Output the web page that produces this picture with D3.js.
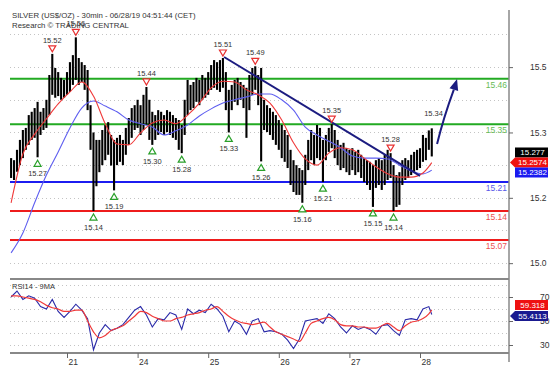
<!DOCTYPE html>
<html><head><meta charset="utf-8">
<script src="https://cdn.jsdelivr.net/npm/d3@7"></script>
<style>
html,body{margin:0;padding:0;background:#fff;}
svg{display:block;font-family:"Liberation Sans",Arial,sans-serif;}
</style></head><body>
<svg id="c" width="554" height="369"></svg>
<script>
const title = "SILVER (US$/OZ) - 30min - 06/28/19 04:51:44 (CET)";
const subtitle = "Research \u00A9 TRADING CENTRAL";
const rsiTitle = "RSI14 - 9MA";
const dayTickHours = [24, 48, 72, 96, 120, 144];
const dayTickLabels = ["21", "24", "25", "26", "27", "28"];
const priceTicks = [15.488, 15.33, 15.172, 15.014];
const priceGrid = [15.567, 15.488, 15.409, 15.33, 15.251, 15.172, 15.093, 15.014];
const rsiTicks = [70, 50, 30];
const rsiGrid = [80, 70, 60, 50, 40, 30];
const startHour = 5;
const highs = [15.268,15.263,15.288,15.312,15.336,15.341,15.372,15.380,15.389,15.404,
15.380,15.389,15.409,15.469,15.520,15.486,15.476,15.462,15.457,15.476,
15.500,15.517,15.560,15.510,15.500,15.493,15.481,15.396,15.330,15.312,
15.312,15.336,15.348,15.355,15.324,15.312,15.317,15.324,15.312,15.341,
15.365,15.389,15.396,15.409,15.396,15.421,15.440,15.409,15.380,15.372,
15.384,15.380,15.372,15.384,15.380,15.372,15.365,15.360,15.348,15.409,
15.457,15.445,15.452,15.462,15.457,15.469,15.462,15.476,15.493,15.505,
15.500,15.505,15.510,15.476,15.433,15.445,15.457,15.462,15.452,15.445,
15.438,15.469,15.486,15.490,15.469,15.486,15.409,15.396,15.389,15.380,
15.372,15.360,15.348,15.336,15.324,15.288,15.263,15.251,15.244,15.239,
15.276,15.312,15.336,15.324,15.348,15.341,15.312,15.324,15.341,15.350,
15.336,15.312,15.300,15.305,15.292,15.288,15.292,15.283,15.288,15.276,
15.268,15.263,15.259,15.251,15.263,15.268,15.263,15.276,15.288,15.280,
15.251,15.227,15.234,15.263,15.268,15.263,15.276,15.283,15.288,15.292,
15.324,15.317,15.335,15.340];
const lows = [15.220,15.215,15.235,15.251,15.268,15.288,15.300,15.312,15.317,15.270,
15.324,15.336,15.341,15.372,15.421,15.414,15.418,15.409,15.414,15.421,
15.428,15.445,15.457,15.445,15.452,15.433,15.384,15.288,15.140,15.200,
15.234,15.251,15.263,15.276,15.250,15.190,15.251,15.259,15.251,15.276,
15.300,15.317,15.336,15.341,15.324,15.336,15.348,15.312,15.300,15.312,
15.324,15.331,15.324,15.331,15.324,15.317,15.312,15.288,15.280,15.324,
15.372,15.384,15.389,15.404,15.396,15.409,15.414,15.421,15.433,15.438,
15.433,15.428,15.438,15.384,15.330,15.384,15.404,15.396,15.409,15.389,
15.317,15.384,15.421,15.433,15.396,15.260,15.336,15.331,15.324,15.312,
15.300,15.288,15.268,15.259,15.244,15.203,15.186,15.179,15.179,15.160,
15.203,15.239,15.263,15.251,15.268,15.263,15.210,15.263,15.283,15.292,
15.268,15.251,15.239,15.244,15.234,15.227,15.239,15.227,15.234,15.220,
15.210,15.203,15.191,15.150,15.196,15.203,15.191,15.203,15.215,15.220,
15.140,15.150,15.155,15.203,15.215,15.220,15.227,15.234,15.239,15.244,
15.259,15.263,15.288,15.272];
// moving averages sampled every 4 bars (last one at the final bar)
const maFast = [15.160,15.278,15.326,15.363,15.399,15.428,15.452,15.418,15.351,15.302,
15.300,15.329,15.353,15.360,15.351,15.372,15.401,15.438,15.454,15.452,
15.433,15.421,15.401,15.360,15.305,15.266,15.251,15.280,15.293,15.288,
15.268,15.247,15.230,15.222,15.222,15.232,15.257];
const maSlow = [15.039,15.087,15.160,15.227,15.283,15.341,15.389,15.406,15.394,15.380,
15.360,15.351,15.343,15.324,15.334,15.348,15.370,15.387,15.401,15.409,
15.416,15.423,15.423,15.409,15.384,15.343,15.324,15.309,15.293,15.273,
15.268,15.268,15.266,15.251,15.237,15.230,15.239];
// RSI sampled every 2 bars (last one at the final bar)
const rsi = [70,75,68,71,69,62,60,68,58,53,58,64,59,52,26,40,47,42,44,47,
53,59,62,55,45,52,51,57,55,43,60,56,59,57,64,60,54,41,50,47,
39,50,52,41,42,41,39,34,27,35,50,51,52,48,56,52,45,40,46,43,
45,43,39,46,47,42,38,51,52,51,60,62,55.4];
const rsiMA = [71,71,70,69,68,66,63,61,60,58,58,59,59,50,41,36,38,42,44,46,
50,54,58,57,54,52,50,50,52,53,55,56,57,59,60,62,58,54,51,49,
48,47,48,49,45,41,39,37,35,33,40,48,50,52,53,51,47,46,46,45,
45,44,44,46,48,45,42,46,49,50,52,56,59.3];
const resistances = [15.46, 15.35];
const pivots = [15.21];
const supports = [15.14, 15.07];
const peaks = [[14,15.52],[22,15.56],[46,15.44],[72,15.51],[83,15.49],[109,15.35],[129,15.28]];
const troughs = [[9,15.27],[28,15.14],[35,15.19],[48,15.30],[58,15.28],[74,15.33],[85,15.26],[99,15.16],[106,15.21],[123,15.15],[130,15.14]];
const plainLabels = [[143.6,15.34]];
const trendLine = [[77.4,15.5125],[144,15.225]];
const arrowLine = [[149.8,15.302],[156.6,15.459]];
const lastPrice = 15.277, lastFast = 15.2574, lastSlow = 15.2382;
const lastRsi = 55.4113, lastRsiMA = 59.318;

const svg = d3.select("#c");
const x = d3.scaleLinear().domain([24, 144]).range([67, 420]);
const y = d3.scaleLinear().domain([15.07, 15.46]).range([240, 78.7]);
const yr = d3.scaleLinear().domain([30, 70]).range([345, 297]);
const L = 10, R = 509, T = 10, MB = 279, RB = 353;
const barX = i => x(startHour + i);

const defs = svg.append("defs");
defs.append("clipPath").attr("id","cm").append("rect").attr("x",L).attr("y",T).attr("width",R-L).attr("height",MB-T);
defs.append("clipPath").attr("id","cr").append("rect").attr("x",L).attr("y",MB+1).attr("width",R-L).attr("height",RB-MB-1);

// header
svg.append("text").attr("x",12).attr("y",18).attr("font-size",7.8).attr("fill","#333").text(title);
svg.append("text").attr("x",12).attr("y",28).attr("font-size",7.8).attr("fill","#333").text(subtitle);

// grid
const main = svg.append("g").attr("clip-path","url(#cm)");
main.selectAll(".g").data(priceGrid).join("line")
  .attr("x1",L).attr("x2",R).attr("y1",d=>Math.round(y(d))+0.5).attr("y2",d=>Math.round(y(d))+0.5)
  .attr("stroke","#c4c4c4").attr("stroke-dasharray","1,3");

// level lines
function level(vals, col, tcol){
  vals.forEach(v=>{
    main.append("line").attr("x1",L).attr("x2",R).attr("y1",y(v)).attr("y2",y(v)).attr("stroke",col).attr("stroke-width",2);
    svg.append("text").attr("x",507).attr("y",y(v)+9).attr("text-anchor","end").attr("font-size",8.5).attr("fill",tcol).text(v.toFixed(2));
  });
}
level(resistances,"#22aa22","#66bb55");
level(pivots,"#1c1cf0","#5a5ae8");
level(supports,"#ee1c1c","#ee5050");

// bars
main.selectAll(".bar").data(highs).join("line")
  .attr("x1",(d,i)=>barX(i)).attr("x2",(d,i)=>barX(i))
  .attr("y1",d=>y(d)).attr("y2",(d,i)=>y(lows[i]))
  .attr("stroke","#000").attr("stroke-width",2.1);

// moving averages
const maIdx = j => Math.min(4*j, highs.length-1);
const lineMA = d3.line().x((d,j)=>barX(maIdx(j))).y(d=>y(d)).curve(d3.curveMonotoneX);
main.append("path").attr("d",lineMA(maSlow)).attr("fill","none").attr("stroke","#5e5ef0").attr("stroke-width",1.1);
main.append("path").attr("d",lineMA(maFast)).attr("fill","none").attr("stroke","#f03a3a").attr("stroke-width",1.1);

// trend line
main.append("line").attr("x1",x(trendLine[0][0])).attr("y1",y(trendLine[0][1]))
  .attr("x2",x(trendLine[1][0])).attr("y2",y(trendLine[1][1])).attr("stroke","#1c1c80").attr("stroke-width",2);

// arrow
{
  const x1=x(arrowLine[0][0]), y1=y(arrowLine[0][1]), x2=x(arrowLine[1][0]), y2=y(arrowLine[1][1]);
  const ang=Math.atan2(y2-y1,x2-x1), hl=11, hw=4.5;
  const bx=x2-hl*Math.cos(ang), by=y2-hl*Math.sin(ang);
  const mx=(x1+bx)/2-2, my=(y1+by)/2+1;
  main.append("path").attr("d",`M${x1},${y1}Q${mx},${my} ${bx},${by}`).attr("fill","none").attr("stroke","#1c1c80").attr("stroke-width",2);
  const px=-Math.sin(ang), py=Math.cos(ang);
  main.append("path").attr("d",`M${x2},${y2}L${bx+hw*px},${by+hw*py}L${bx-hw*px},${by-hw*py}Z`).attr("fill","#1c1c80");
}

// markers
peaks.forEach(([i,v])=>{
  const cx=barX(i), cy=y(v)-5;
  main.append("path").attr("d",`M${cx-3.5},${cy-3}L${cx+3.5},${cy-3}L${cx},${cy+3}Z`).attr("fill","#fff").attr("stroke","#e83030").attr("stroke-width",1.2);
  svg.append("text").attr("x",cx).attr("y",cy-6).attr("text-anchor","middle").attr("font-size",7.5).attr("fill","#333").text(v.toFixed(2));
});
troughs.forEach(([i,v])=>{
  const cx=barX(i), cy=y(v)+6;
  main.append("path").attr("d",`M${cx-3.5},${cy+3}L${cx+3.5},${cy+3}L${cx},${cy-3}Z`).attr("fill","#fff").attr("stroke","#2aa02a").attr("stroke-width",1.2);
  svg.append("text").attr("x",cx).attr("y",cy+13).attr("text-anchor","middle").attr("font-size",7.5).attr("fill","#333").text(v.toFixed(2));
});
plainLabels.forEach(([h,v])=>{
  svg.append("text").attr("x",barX(h)).attr("y",y(v)-12).attr("text-anchor","middle").attr("font-size",7.5).attr("fill","#333").text(v.toFixed(2));
});

// RSI panel
const rp = svg.append("g").attr("clip-path","url(#cr)");
rp.selectAll(".rg").data(rsiGrid).join("line")
  .attr("x1",L).attr("x2",R).attr("y1",d=>Math.round(yr(d))+0.5).attr("y2",d=>Math.round(yr(d))+0.5)
  .attr("stroke","#c4c4c4").attr("stroke-dasharray","1,3");
const rIdx = j => Math.min(2*j, highs.length-1);
const lineR = d3.line().x((d,j)=>barX(rIdx(j))).y(d=>yr(d));
rp.append("path").attr("d",lineR(rsi)).attr("fill","none").attr("stroke","#2a2aa8").attr("stroke-width",1.1);
rp.append("path").attr("d",lineR.curve(d3.curveMonotoneX)(rsiMA)).attr("fill","none").attr("stroke","#f03a3a").attr("stroke-width",1.2);
svg.append("text").attr("x",12).attr("y",289).attr("font-size",7.5).attr("fill","#333").text(rsiTitle);

// frame
svg.append("line").attr("x1",L).attr("x2",R).attr("y1",MB).attr("y2",MB).attr("stroke","#888").attr("stroke-width",2);
svg.append("line").attr("x1",L).attr("x2",R).attr("y1",RB).attr("y2",RB).attr("stroke","#888").attr("stroke-width",2);
svg.append("line").attr("x1",R).attr("x2",R).attr("y1",T).attr("y2",362).attr("stroke","#888").attr("stroke-width",1.5);

// right axes
const ya = svg.append("g").attr("transform",`translate(${R},0)`)
  .call(d3.axisRight(y).tickValues(priceTicks).tickFormat(d3.format(".1f")).tickSize(4).tickPadding(17));
const yra = svg.append("g").attr("transform",`translate(${R},0)`)
  .call(d3.axisRight(yr).tickValues(rsiTicks).tickSize(4).tickPadding(27));
[ya,yra].forEach(g=>{g.select(".domain").remove(); g.selectAll("text").attr("font-size",8.5).attr("fill","#333").attr("font-family","Liberation Sans, Arial, sans-serif"); g.selectAll("line").attr("stroke","#666");});

// x axis
const xa = svg.append("g").attr("transform",`translate(0,${RB})`)
  .call(d3.axisBottom(x).tickValues(dayTickHours).tickFormat((d,i)=>dayTickLabels[i]).tickSize(5).tickPadding(1));
xa.select(".domain").remove();
xa.selectAll("line").attr("stroke","#666");
xa.selectAll("text").attr("text-anchor","start").attr("dx",1).attr("font-size",8.5).attr("fill","#333").attr("font-family","Liberation Sans, Arial, sans-serif");

// value boxes
function box(cy, txt, fill, arrow){
  const x0=515, x1=548, h=10;
  if(arrow){
    svg.append("path").attr("d",`M${x0-5},${cy}L${x0},${cy-h/2}L${x1},${cy-h/2}L${x1},${cy+h/2}L${x0},${cy+h/2}Z`).attr("fill",fill);
  } else {
    svg.append("rect").attr("x",x0).attr("y",cy-h/2).attr("width",x1-x0).attr("height",h).attr("fill",fill);
  }
  svg.append("text").attr("x",(x0+x1)/2+1).attr("y",cy+3).attr("text-anchor","middle").attr("font-size",8).attr("fill","#fff").text(txt);
}
const cF = y(lastFast);
box(cF-10, lastPrice.toFixed(3), "#000", false);
box(cF, String(lastFast), "#ee1111", true);
box(cF+10, String(lastSlow), "#1a1af0", false);
const cR = yr(lastRsi)+1.5;
box(cR-11, String(lastRsiMA), "#ee1111", false);
box(cR, String(lastRsi), "#1a1a90", true);
</script>
</body></html>
